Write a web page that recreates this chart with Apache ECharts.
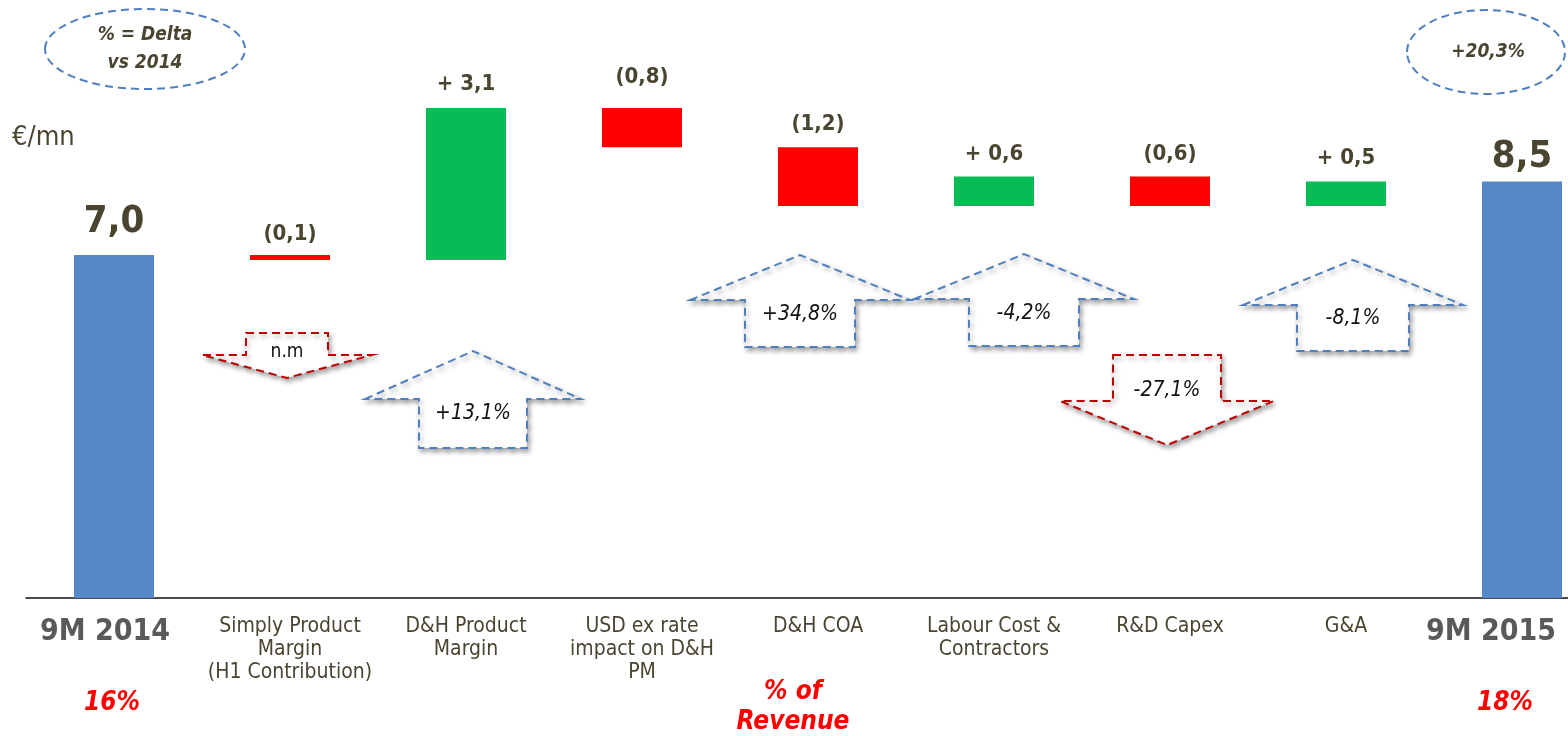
<!DOCTYPE html>
<html>
<head>
<meta charset="utf-8">
<script src="https://cdn.jsdelivr.net/npm/echarts@6/dist/echarts.min.js"></script>
<style>
  html, body { margin: 0; padding: 0; background: #fff; }
  #chart { width: 1568px; height: 736px; }
</style>
</head>
<body>
<div id="chart"></div>
<script>
// Waterfall: 9M 2014 -> 9M 2015 (€/mn)
const categories = [
  '9M 2014',
  'Simply Product\nMargin\n(H1 Contribution)',
  'D&H Product\nMargin',
  'USD ex rate\nimpact on D&H\nPM',
  'D&H COA',
  'Labour Cost &\nContractors',
  'R&D Capex',
  'G&A',
  '9M 2015'
];
// first and last entries are totals, the rest are changes
const changes = [7.0, -0.1, 3.1, -0.8, -1.2, 0.6, -0.6, 0.5, 8.5];
const totalIdx = [0, 8];

// delta vs 2014 shown in the arrow call-outs
const deltaCats = [1, 2, 4, 5, 6, 7];
const deltaTexts = ['n.m', '+13,1%', '+34,8%', '-4,2%', '-27,1%', '-8,1%'];
const deltaUp = [false, true, true, true, false, true];

// % of revenue
const revenueShare = ['16%', '18%'];
const totalDelta = '+20,3%';

// arrow call-out geometry (base line in axis units, sizes in px)
const arrowLayout = [
  { dx: -3, base: 4.96, hw: 85, sw: 41, headH: 23, shaftH: 22, ty: -3 },
  { dx: 7, base: 4.06, hw: 108, sw: 54, headH: 48, shaftH: 49, ty: 14 },
  { dx: -18, base: 6.08, hw: 110, sw: 55, headH: 45, shaftH: 47, ty: 14 },
  { dx: 30, base: 6.10, hw: 110, sw: 55, headH: 45, shaftH: 47, ty: 14 },
  { dx: -3, base: 4.02, hw: 107, sw: 54, headH: 44, shaftH: 46, ty: -10 },
  { dx: 7, base: 5.98, hw: 110, sw: 56, headH: 45, shaftH: 46, ty: 14 }
];
// per-bar adjustment of value label distance (px)
const labelLift = { 0: 2, 1: -1, 2: 2, 3: 9, 4: 1, 7: 1, 8: -7 };

const FONT = '"DejaVu Sans Condensed", "Liberation Sans Narrow", "DejaVu Sans", sans-serif';
const TXT = '#4a4530';
const BLUE = '#5787c7';
const GREEN = '#08bc55';
const RED = '#ff0000';
const DASH_BLUE = '#4f7fbf';
const DASH_RED = '#c00000';

// build stacked waterfall (invisible base + visible step)
const baseData = [];
const stepData = [];
let running = 0;
changes.forEach((v, i) => {
  const isTotal = totalIdx.includes(i);
  let lo, hi, color;
  if (isTotal) {
    lo = 0; hi = v; running = v; color = BLUE;
  } else {
    const next = +(running + v).toFixed(2);
    lo = Math.min(running, next); hi = Math.max(running, next);
    color = v >= 0 ? GREEN : RED;
    running = next;
  }
  baseData.push(lo);
  const txt = isTotal ? v.toFixed(1).replace('.', ',')
    : (v >= 0 ? '+ ' + v.toFixed(1).replace('.', ',') : '(' + Math.abs(v).toFixed(1).replace('.', ',') + ')');
  stepData.push({
    value: +(hi - lo).toFixed(2),
    itemStyle: { color: color },
    label: {
      show: true,
      position: 'top',
      distance: (isTotal ? 12 : 11) + (labelLift[i] || 0),
      formatter: txt,
      fontSize: isTotal ? 38 : 22,
      fontWeight: 'bold',
      color: TXT,
      fontFamily: FONT
    }
  });
});

const chart = echarts.init(document.getElementById('chart'), null, { renderer: 'canvas' });

const option = {
  animation: false,
  backgroundColor: '#ffffff',
  grid: { left: 26, right: -42, top: 10, bottom: 138, containLabel: false, outerBoundsMode: 'none' },
  xAxis: {
    type: 'category',
    data: categories,
    axisLine: { show: true, lineStyle: { color: '#111111', width: 1.5 } },
    axisTick: { show: false },
    axisLabel: {
      interval: 0,
      margin: 17,
      fontFamily: FONT,
      fontSize: 21,
      lineHeight: 23,
      color: TXT,
      formatter: (val, idx) => idx === 0 ? '{a|' + val + '}' : (idx === 8 ? '{b|' + val + '}' : val),
      rich: {
        a: { fontFamily: FONT, fontSize: 30, fontWeight: 'bold', color: '#595959', lineHeight: 34, padding: [0, 18, 0, 0] },
        b: { fontFamily: FONT, fontSize: 30, fontWeight: 'bold', color: '#595959', lineHeight: 34, padding: [0, 62, 0, 0] }
      }
    }
  },
  yAxis: {
    type: 'value',
    min: 0,
    max: 12,
    show: false,
    splitLine: { show: false }
  },
  series: [
    {
      type: 'bar',
      stack: 'wf',
      data: baseData,
      barWidth: 80,
      itemStyle: { color: 'transparent' },
      emphasis: { disabled: true },
      silent: true
    },
    {
      type: 'bar',
      stack: 'wf',
      data: stepData,
      barWidth: 80
    },
    {
      type: 'custom',
      clip: false,
      silent: true,
      z: 5,
      data: deltaCats.map((c, i) => [c, arrowLayout[i].base, i]),
      renderItem: function (params, api) {
        const k = api.value(2);
        const L = arrowLayout[k];
        const p = api.coord([api.value(0), api.value(1)]);
        const cx = p[0] + L.dx, by = p[1];
        const up = deltaUp[k];
        let pts;
        if (up) {
          pts = [[cx - L.hw, by], [cx, by - L.headH], [cx + L.hw, by], [cx + L.sw, by],
                 [cx + L.sw, by + L.shaftH], [cx - L.sw, by + L.shaftH], [cx - L.sw, by]];
        } else {
          pts = [[cx - L.sw, by - L.shaftH], [cx + L.sw, by - L.shaftH], [cx + L.sw, by],
                 [cx + L.hw, by], [cx, by + L.headH], [cx - L.hw, by], [cx - L.sw, by]];
        }
        const isNm = deltaTexts[k] === 'n.m';
        return {
          type: 'group',
          children: [
            {
              type: 'polygon',
              shape: { points: pts },
              style: {
                fill: '#ffffff',
                stroke: up ? DASH_BLUE : DASH_RED,
                lineWidth: 2,
                lineDash: [8, 5],
                shadowColor: 'rgba(0,0,0,0.35)',
                shadowBlur: 5,
                shadowOffsetX: 2,
                shadowOffsetY: 3
              }
            },
            {
              type: 'text',
              style: {
                x: cx, y: by + L.ty,
                text: deltaTexts[k],
                fill: '#111111',
                font: (isNm ? 'normal 19px ' : 'italic 21px ') + FONT,
                align: 'center',
                verticalAlign: 'middle'
              }
            }
          ]
        };
      }
    }
  ],
  graphic: [
    {
      type: 'text', left: 12, top: 124,
      style: { text: '€/mn', font: '500 27px ' + FONT, fill: TXT }
    },
    {
      type: 'ellipse',
      shape: { cx: 145, cy: 49, rx: 100, ry: 40 },
      style: { fill: 'none', stroke: DASH_BLUE, lineWidth: 2, lineDash: [8, 5] }
    },
    {
      type: 'text',
      style: {
        x: 145, y: 49, text: '% = Delta\nvs 2014', align: 'center', verticalAlign: 'middle',
        font: 'italic bold 19px ' + FONT, fill: TXT, lineHeight: 28
      }
    },
    {
      type: 'ellipse',
      shape: { cx: 1486, cy: 52, rx: 79, ry: 42 },
      style: { fill: 'none', stroke: DASH_BLUE, lineWidth: 2, lineDash: [8, 5] }
    },
    {
      type: 'text',
      style: {
        x: 1488, y: 52, text: totalDelta, align: 'center', verticalAlign: 'middle',
        font: 'italic bold 19px ' + FONT, fill: TXT
      }
    }
  ]
};

chart.setOption(option);

// % of revenue notes below the axis
const xFirst = chart.convertToPixel({ xAxisIndex: 0 }, 0);
const xLast = chart.convertToPixel({ xAxisIndex: 0 }, 8);
const xMid = chart.convertToPixel({ xAxisIndex: 0 }, 4);
const redFont = 'italic bold 26px ' + FONT;
chart.setOption({
  graphic: option.graphic.concat([
    { type: 'text', style: { x: xFirst - 2, y: 703, text: revenueShare[0], align: 'center', verticalAlign: 'middle', font: redFont, fill: RED } },
    { type: 'text', style: { x: xLast - 17, y: 703, text: revenueShare[1], align: 'center', verticalAlign: 'middle', font: redFont, fill: RED } },
    { type: 'text', style: { x: xMid - 25, y: 707, text: '% of\nRevenue', align: 'center', verticalAlign: 'middle', font: redFont, fill: RED, lineHeight: 30 } }
  ])
});
</script>
</body>
</html>
